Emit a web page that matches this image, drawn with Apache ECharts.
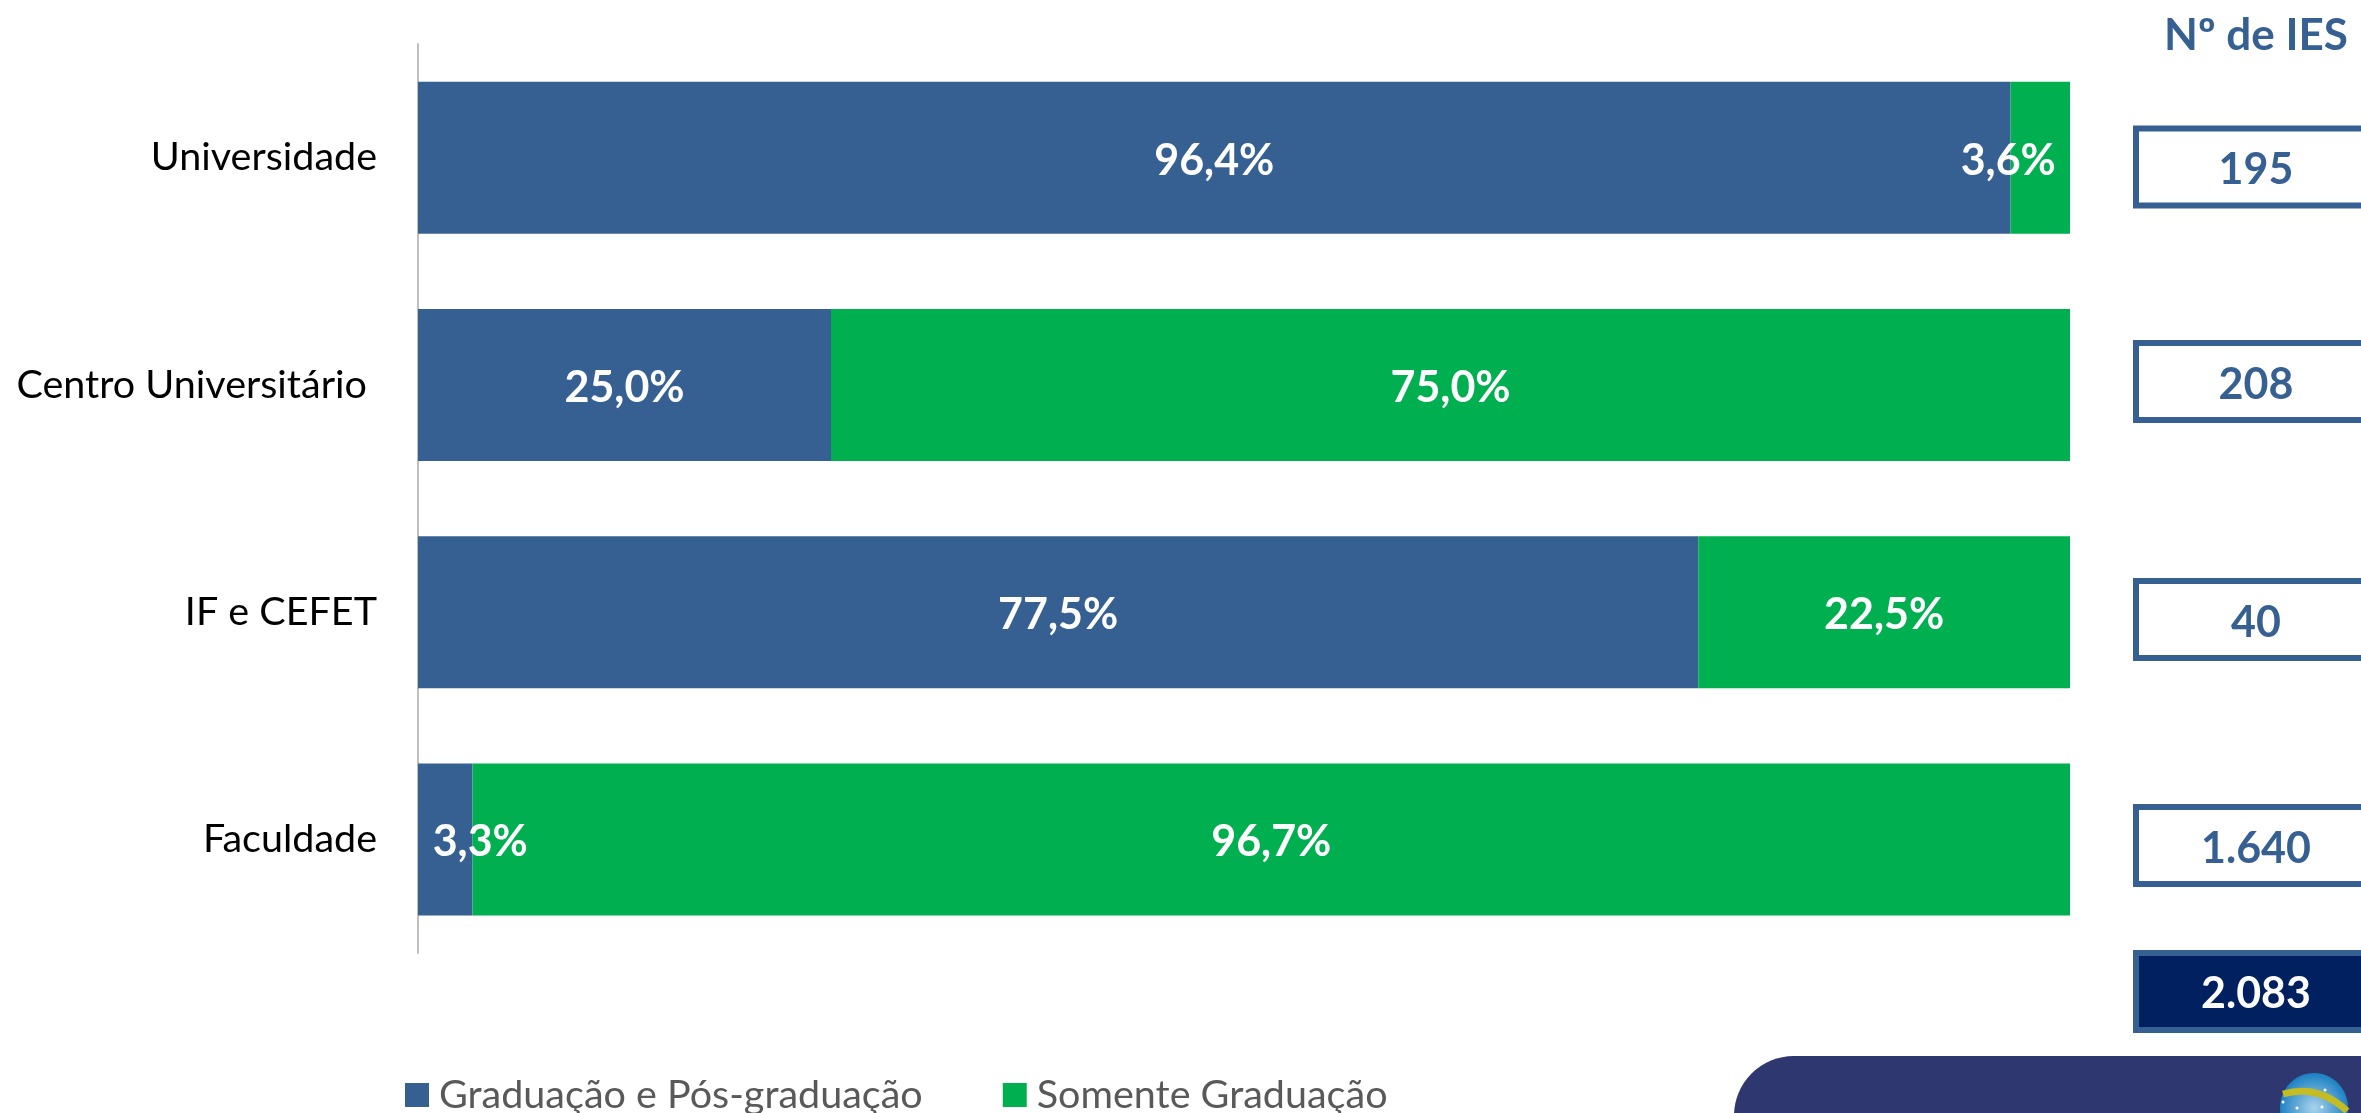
<!DOCTYPE html>
<html>
<head>
<meta charset="utf-8">
<title>IES</title>
<script src="https://cdn.jsdelivr.net/npm/echarts@6/dist/echarts.min.js"></script>
<style>
html, body { margin: 0; padding: 0; background: #fff; overflow: hidden; }
#chart { width: 2361px; height: 1113px; }
</style>
</head>
<body>
<div id="chart"></div>
<script>
const categories = ['Universidade', 'Centro Universitário ', 'IF e CEFET', 'Faculdade'];
const gradPos = [96.4, 25.0, 77.5, 3.3];
const soGrad = [3.6, 75.0, 22.5, 96.7];
const numIes = ['195', '208', '40', '1.640'];
const totalIes = '2.083';

const font = 'Lato';
const blue = '#376092';
const green = '#00B050';

function pct(p) {
  return p.value.toFixed(1).replace('.', ',') + '%';
}

// os rótulos pequenos saem do segmento, como no original
function withOffset(values, dx) {
  return values.map(v => v < 5 ? { value: v, label: { offset: [dx, 3] } } : v);
}

const labelStyle = {
  show: true,
  position: 'inside',
  offset: [0, 3],
  formatter: pct,
  color: '#fff',
  fontFamily: font,
  fontWeight: 'bold',
  fontSize: 43
};

function boxText(x, y, text, size, fill) {
  return { type: 'text', style: { x, y, text, fontFamily: font, fontWeight: 'bold', fontSize: size, fill, align: 'center', verticalAlign: 'middle' } };
}

// caixas da coluna da direita
const boxTops = [125.5, 340, 578, 804];
const graphics = [boxText(2256, 36, 'Nº de IES', 44, blue)];
numIes.forEach((n, i) => {
  graphics.push({ type: 'rect', shape: { x: 2136, y: boxTops[i] + 3, width: 240, height: 77 }, style: { fill: '#fff', stroke: blue, lineWidth: 6 } });
  graphics.push(boxText(2256, boxTops[i] + 45, n, 43, blue));
});
graphics.push({ type: 'rect', shape: { x: 2136, y: 953, width: 240, height: 77 }, style: { fill: '#002060', stroke: blue, lineWidth: 6 } });
graphics.push(boxText(2256, 994, totalIes, 43, '#fff'));
// painel do rodapé com o globo
graphics.push({ type: 'rect', shape: { x: 1734, y: 1056, width: 700, height: 120, r: 72 }, style: { fill: '#2E3770' } });
graphics.push({
  type: 'ellipse',
  shape: { cx: 2314, cy: 1108, rx: 34, ry: 35 },
  style: {
    fill: {
      type: 'radial', x: 0.5, y: 0.5, r: 0.5,
      colorStops: [{ offset: 0, color: '#A9D3EC' }, { offset: 1, color: '#1F82C4' }]
    }
  }
});
graphics.push({
  type: 'bezierCurve',
  shape: { x1: 2283, y1: 1094, cpx1: 2318, cpy1: 1084, x2: 2347, y2: 1111 },
  style: { stroke: '#C4BC22', lineWidth: 7, fill: 'none' }
});
[[2325, 1090], [2283, 1102], [2297, 1108], [2322, 1107]].forEach(s => {
  graphics.push({ type: 'circle', shape: { cx: s[0], cy: s[1], r: 1.5 }, style: { fill: '#fff' } });
});

const chart = echarts.init(document.getElementById('chart'));
chart.setOption({
  animation: false,
  backgroundColor: '#fff',
  grid: { left: 418, right: 291, top: 44, bottom: 160, containLabel: false },
  legend: {
    left: 405,
    top: 1075,
    padding: 0,
    itemWidth: 24,
    itemHeight: 24,
    itemGap: 80,
    icon: 'rect',
    data: ['Graduação e Pós-graduação', 'Somente Graduação'],
    textStyle: { color: '#595959', fontFamily: font, fontSize: 39.5, padding: [0, 0, 0, 5] }
  },
  xAxis: { type: 'value', min: 0, max: 100, show: false },
  yAxis: {
    type: 'category',
    inverse: true,
    data: categories,
    axisLine: { show: true, lineStyle: { color: '#BFBFBF', width: 2 } },
    axisTick: { show: false },
    axisLabel: { margin: 41, color: '#000', fontFamily: font, fontSize: 39.5, padding: [4, 0, 0, 0] }
  },
  series: [
    {
      name: 'Graduação e Pós-graduação',
      type: 'bar',
      stack: 'total',
      barWidth: 152,
      itemStyle: { color: blue },
      label: labelStyle,
      data: withOffset(gradPos, 35)
    },
    {
      name: 'Somente Graduação',
      type: 'bar',
      stack: 'total',
      barWidth: 152,
      itemStyle: { color: green },
      label: labelStyle,
      data: withOffset(soGrad, -32)
    }
  ],
  graphic: graphics
});
</script>
</body>
</html>
